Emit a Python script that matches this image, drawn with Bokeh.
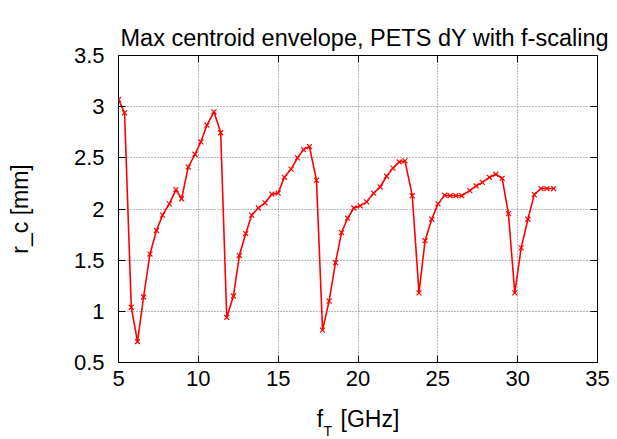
from bokeh.plotting import figure
from bokeh.models import Range1d, LinearAxis, Title, FixedTicker
from bokeh.embed import file_html
from bokeh.resources import INLINE

# Data
f_T = [5.0, 5.38, 5.8, 6.19, 6.57, 6.97, 7.38, 7.76, 8.18, 8.6, 8.95, 9.37, 9.79,
       10.16, 10.54, 10.98, 11.4, 11.78, 12.2, 12.57, 12.97, 13.34, 13.76, 14.18,
       14.6, 15.0, 15.39, 15.81, 16.21, 16.59, 16.96, 17.4, 17.78, 18.19, 18.59,
       18.97, 19.35, 19.74, 20.14, 20.54, 20.98, 21.39, 21.79, 22.19, 22.58, 22.94,
       23.4, 23.82, 24.2, 24.62, 25.01, 25.43, 25.77, 26.13, 26.5, 27.0, 27.4,
       27.79, 28.23, 28.63, 29.03, 29.42, 29.82, 30.22, 30.64, 31.04, 31.46, 31.83,
       32.25]
r_c = [3.07, 2.94, 1.04, 0.705, 1.14, 1.56, 1.79, 1.94, 2.05, 2.19, 2.10, 2.41, 2.535,
       2.655, 2.82, 2.95, 2.745, 0.94, 1.15, 1.545, 1.76, 1.94, 2.01, 2.06,
       2.145, 2.155, 2.31, 2.39, 2.50, 2.58, 2.61, 2.28, 0.816, 1.10, 1.475,
       1.77, 1.91, 2.01, 2.03, 2.07, 2.155, 2.215, 2.32, 2.40, 2.46, 2.47,
       2.13, 1.18, 1.69, 1.90, 2.05, 2.135, 2.13, 2.13, 2.13, 2.18, 2.225,
       2.26, 2.31, 2.34, 2.30, 1.955, 1.18, 1.62, 1.90, 2.14, 2.20, 2.20,
       2.20]
x_ticks = [5, 10, 15, 20, 25, 30, 35]
y_ticks = [0.5, 1.0, 1.5, 2.0, 2.5, 3.0, 3.5]
title_text = "Max centroid envelope, PETS dY with f-scaling"
x_label_main = "f\u00a0\u00a0\u2009[GHz]"
x_label_sub = "T"
y_label = "r_c [mm]"

FONT = "Liberation Sans"
W, H = 617, 439

p = figure(width=W, height=H, output_backend="svg", toolbar_location=None,
           x_range=Range1d(5, 35), y_range=Range1d(0.5, 3.5),
           min_border_left=118, min_border_right=20, min_border_top=55,
           min_border_bottom=77)
p.background_fill_color = "white"
p.border_fill_color = "white"
p.outline_line_color = "black"
p.outline_line_width = 1

p.title.text = title_text
p.title.align = "left"
p.title.text_font = FONT
p.title.text_font_size = "23.5px"
p.title.text_font_style = "normal"
p.title.text_color = "black"
p.title.offset = 2
p.title.standoff = 10

for ax in (p.xaxis[0], p.yaxis[0]):
    ax.axis_line_color = None
    ax.major_tick_in = 7
    ax.major_tick_out = 0
    ax.minor_tick_line_color = None
    ax.major_label_text_font = FONT
    ax.major_label_text_font_size = "22px"
    ax.major_label_text_color = "black"
    ax.major_tick_line_color = "black"
    ax.axis_label_text_font = FONT
    ax.axis_label_text_font_size = "23px"
    ax.axis_label_text_font_style = "normal"
    ax.axis_label_text_color = "black"
p.xaxis[0].ticker = FixedTicker(ticks=x_ticks)
p.yaxis[0].ticker = FixedTicker(ticks=y_ticks)
p.xaxis[0].major_label_standoff = 8
p.yaxis[0].major_label_standoff = 14
p.xaxis[0].axis_label = x_label_main
p.xaxis[0].axis_label_standoff = 17
p.yaxis[0].axis_label = y_label
p.yaxis[0].axis_label_standoff = 38

# subscript of the x label
p.add_layout(Title(text=x_label_sub, align="left", offset=205, standoff=-24,
                   vertical_align="top",
                   text_font=FONT, text_font_size="14px",
                   text_font_style="normal", text_color="black"), "below")

# mirrored ticks on top and right (no labels)
top = LinearAxis(ticker=FixedTicker(ticks=x_ticks),
                 major_label_overrides={t: "" for t in x_ticks})
right = LinearAxis(ticker=FixedTicker(ticks=y_ticks),
                   major_label_overrides={t: "" for t in y_ticks})
for ax in (top, right):
    ax.axis_line_color = None
    ax.major_tick_in = 7
    ax.major_tick_out = 0
    ax.minor_tick_line_color = None
    ax.major_label_standoff = 0
    ax.major_tick_line_color = "black"
p.add_layout(top, "above")
p.add_layout(right, "right")

# empty spacer axis that lifts the title to its place
spacer = LinearAxis(ticker=FixedTicker(ticks=[]), axis_line_color=None,
                    major_tick_in=0, major_tick_out=15,
                    minor_tick_line_color=None)
p.add_layout(spacer, "above")

p.xgrid.ticker = FixedTicker(ticks=x_ticks)
p.ygrid.ticker = FixedTicker(ticks=y_ticks)
for g in (p.xgrid[0], p.ygrid[0]):
    g.grid_line_color = "#707070"
    g.grid_line_dash = "1 2"
    g.grid_line_width = 1

p.line(f_T, r_c, line_color="#ff0000", line_width=1.6)
p.scatter(f_T, r_c, marker="x", size=7, line_color="#ff0000", line_width=1.2)

open("out.html", "w").write(file_html(p, INLINE))
